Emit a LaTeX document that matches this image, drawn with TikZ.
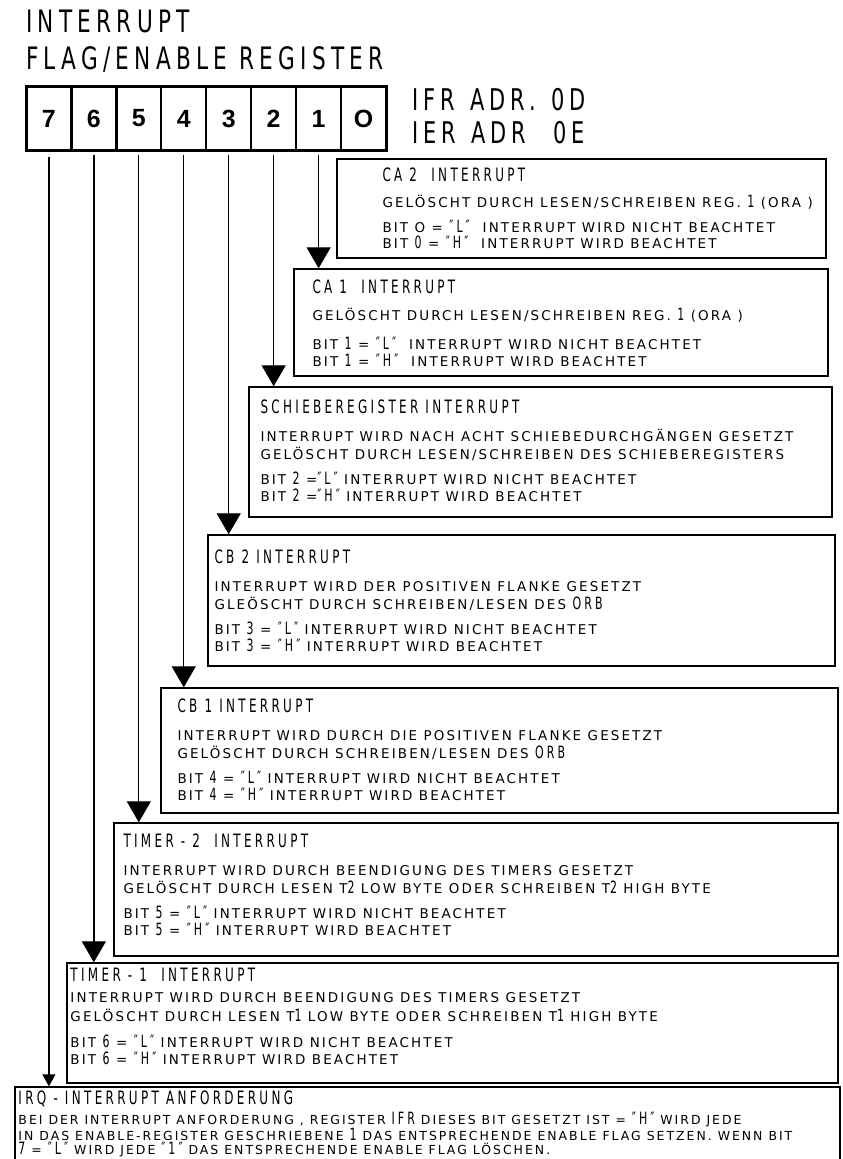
\documentclass[tikz,border=0pt]{standalone}
\usepackage{fontspec}
\setmainfont{DejaVu Sans}
\newfontfamily\bodyfont[LetterSpace=16]{DejaVu Sans}
\newfontfamily\headfont[FakeStretch=0.65,LetterSpace=18]{DejaVu Sans}
\newfontfamily\bigheadfont[FakeStretch=0.7,LetterSpace=17]{DejaVu Sans}
\newfontfamily\cellfont{Liberation Sans}
\usetikzlibrary{arrows.meta, positioning, fit}

% box titles and the tall digits inside the body lines
\newcommand{\kopf}[1]{{\headfont\fontsize{18.5}{18}\selectfont #1}}
\newcommand{\gross}[1]{{\headfont\fontsize{17}{17}\selectfont #1}}

\begin{document}
\begin{tikzpicture}[x=1bp, y=-1bp,
  node distance=0pt,
  cell/.style={draw, line width=1.2bp, inner sep=0pt, minimum width=43.75bp,
    minimum height=63bp, font=\cellfont\bfseries\fontsize{25}{25}\selectfont},
  intbox/.style={draw, line width=1.4bp, inner sep=0pt},
  txt/.style={inner sep=0pt, align=left, font=\bodyfont\fontsize{13.5}{17.5}\selectfont},
  heading/.style={inner sep=0pt, align=left, font=\bigheadfont\fontsize{31}{37}\selectfont},
  arr/.style={-{Triangle[width=24bp, length=21bp]}, line width=1.3bp},
  smallarr/.style={-{Triangle[width=13bp, length=12bp]}, line width=1.3bp}
]
\useasboundingbox (0,0) rectangle (843,1159);

% ===== HEADINGS =====
\node[heading, anchor=north west] (kopf) at (26,10) {INTERRUPT\\FLAG/ENABLE REGISTER};
\node[heading, anchor=north west, font=\bigheadfont\fontsize{30}{33}\selectfont]
  (adr) at (412,88) {IFR\enspace ADR.\enspace 0\,D\\IER\enspace ADR\enspace\ 0\,E};

% ===== REGISTER =====
\node[cell] (c7) at (48.9,118.5) {7};
\node[cell, right=of c7] (c6) {6};
\node[cell, right=of c6] (c5) {5};
\node[cell, right=of c5] (c4) {4};
\node[cell, right=of c4] (c3) {3};
\node[cell, right=of c3] (c2) {2};
\node[cell, right=of c2] (c1) {1};
\node[cell, right=of c1] (c0) {O};
\node[draw, line width=3bp, inner sep=0pt, fit=(c7)(c0)] (reg) {};

% ===== BIT BOXES =====
\node[intbox, fit={(337,159) (826,258)}] (b0) {};
\node[txt, below right=9bp and 46bp of b0.north west] (t0) {%
  \kopf{CA 2\ \ INTERRUPT}\\[9bp]
  GELÖSCHT DURCH LESEN/SCHREIBEN REG. \gross{1} (ORA )\\[7bp]
  BIT O = \gross{″L″}\ \ INTERRUPT WIRD NICHT BEACHTET\\[-1bp]
  BIT \gross{0} = \gross{″H″}\ \ INTERRUPT WIRD BEACHTET};

\node[intbox, fit={(294,269) (828,376)}] (b1) {};
\node[txt, below right=11bp and 19bp of b1.north west] (t1) {%
  \kopf{CA 1\ \ INTERRUPT}\\[10bp]
  GELÖSCHT DURCH LESEN/SCHREIBEN REG. \gross{1} (ORA )\\[11bp]
  BIT \gross{1} = \gross{″L″}\ \ INTERRUPT WIRD NICHT BEACHTET\\
  BIT \gross{1} = \gross{″H″}\ \ INTERRUPT WIRD BEACHTET};

\node[intbox, fit={(249,387) (832,517)}] (b2) {};
\node[txt, below right=13bp and 12bp of b2.north west] (t2) {%
  \kopf{SCHIEBEREGISTER INTERRUPT}\\[11bp]
  INTERRUPT WIRD NACH ACHT SCHIEBEDURCHGÄNGEN GESETZT\\
  GELÖSCHT DURCH LESEN/SCHREIBEN DES SCHIEBEREGISTERS\\[8bp]
  BIT \gross{2} =\gross{″L″} INTERRUPT WIRD NICHT BEACHTET\\
  BIT \gross{2} =\gross{″H″} INTERRUPT WIRD BEACHTET};

\node[intbox, fit={(208,535) (835,666)}] (b3) {};
\node[txt, below right=15bp and 7bp of b3.north west] (t3) {%
  \kopf{CB 2 INTERRUPT}\\[11bp]
  INTERRUPT WIRD DER POSITIVEN FLANKE GESETZT\\
  GLEÖSCHT DURCH SCHREIBEN/LESEN DES \gross{ORB}\\[8bp]
  BIT \gross{3} = \gross{″L″} INTERRUPT WIRD NICHT BEACHTET\\
  BIT \gross{3} = \gross{″H″} INTERRUPT WIRD BEACHTET};

\node[intbox, fit={(161,688) (838,813)}] (b4) {};
\node[txt, below right=11bp and 17bp of b4.north west] (t4) {%
  \kopf{CB 1 INTERRUPT}\\[11bp]
  INTERRUPT WIRD DURCH DIE POSITIVEN FLANKE GESETZT\\
  GELÖSCHT DURCH SCHREIBEN/LESEN DES \gross{ORB}\\[8bp]
  BIT \gross{4} = \gross{″L″} INTERRUPT WIRD NICHT BEACHTET\\
  BIT \gross{4} = \gross{″H″} INTERRUPT WIRD BEACHTET};

\node[intbox, fit={(114,823) (838,956)}] (b5) {};
\node[txt, below right=11bp and 10bp of b5.north west] (t5) {%
  \kopf{TIMER - 2\ \ INTERRUPT}\\[11bp]
  INTERRUPT WIRD DURCH BEENDIGUNG DES TIMERS GESETZT\\
  GELÖSCHT DURCH LESEN T\gross{2} LOW BYTE ODER SCHREIBEN T\gross{2} HIGH BYTE\\[8bp]
  BIT \gross{5} = \gross{″L″} INTERRUPT WIRD NICHT BEACHTET\\
  BIT \gross{5} = \gross{″H″} INTERRUPT WIRD BEACHTET};

\node[intbox, fit={(67,963) (838,1083)}] (b6) {};
\node[txt, below right=6bp and 4bp of b6.north west] (t6) {%
  \kopf{TIMER - 1\ \ INTERRUPT}\\[3bp]
  INTERRUPT WIRD DURCH BEENDIGUNG DES TIMERS GESETZT\\[2bp]
  GELÖSCHT DURCH LESEN T\gross{1} LOW BYTE ODER SCHREIBEN T\gross{1} HIGH BYTE\\[8bp]
  BIT \gross{6} = \gross{″L″} INTERRUPT WIRD NICHT BEACHTET\\
  BIT \gross{6} = \gross{″H″} INTERRUPT WIRD BEACHTET};

% last box runs off the lower edge
\node[intbox, fit={(15,1087) (840,1163)}] (b7) {};
\node[txt, below right=4bp and 4bp of b7.north west,
  font=\bodyfont\fontsize{12.5}{14}\selectfont] (t7) {%
  \kopf{IRQ - INTERRUPT ANFORDERUNG}\\[5bp]
  BEI DER INTERRUPT ANFORDERUNG , REGISTER \gross{IFR} DIESES BIT GESETZT IST = \gross{″H″} WIRD JEDE\\
  IN DAS ENABLE-REGISTER GESCHRIEBENE \gross{1} DAS ENTSPRECHENDE ENABLE FLAG SETZEN. WENN BIT\\
  \gross{7} = \gross{″L″} WIRD JEDE \gross{″1″} DAS ENTSPRECHENDE ENABLE FLAG LÖSCHEN.};

% ===== BIT LINES =====
\draw[arr] ([yshift=-4bp]c1.south) -- (c1 |- b1.north);
\draw[arr] ([yshift=-4bp]c2.south) -- (c2 |- b2.north);
\draw[arr] ([yshift=-4bp]c3.south) -- (c3 |- b3.north);
\draw[arr] ([yshift=-4bp]c4.south) -- (c4 |- b4.north);
\draw[arr] ([yshift=-4bp]c5.south) -- (c5 |- b5.north);
\draw[arr] ([yshift=-4bp]c6.south) -- (c6 |- b6.north);
\draw[smallarr] ([yshift=-6bp]c7.south) -- (c7 |- b7.north);
\end{tikzpicture}
\end{document}
